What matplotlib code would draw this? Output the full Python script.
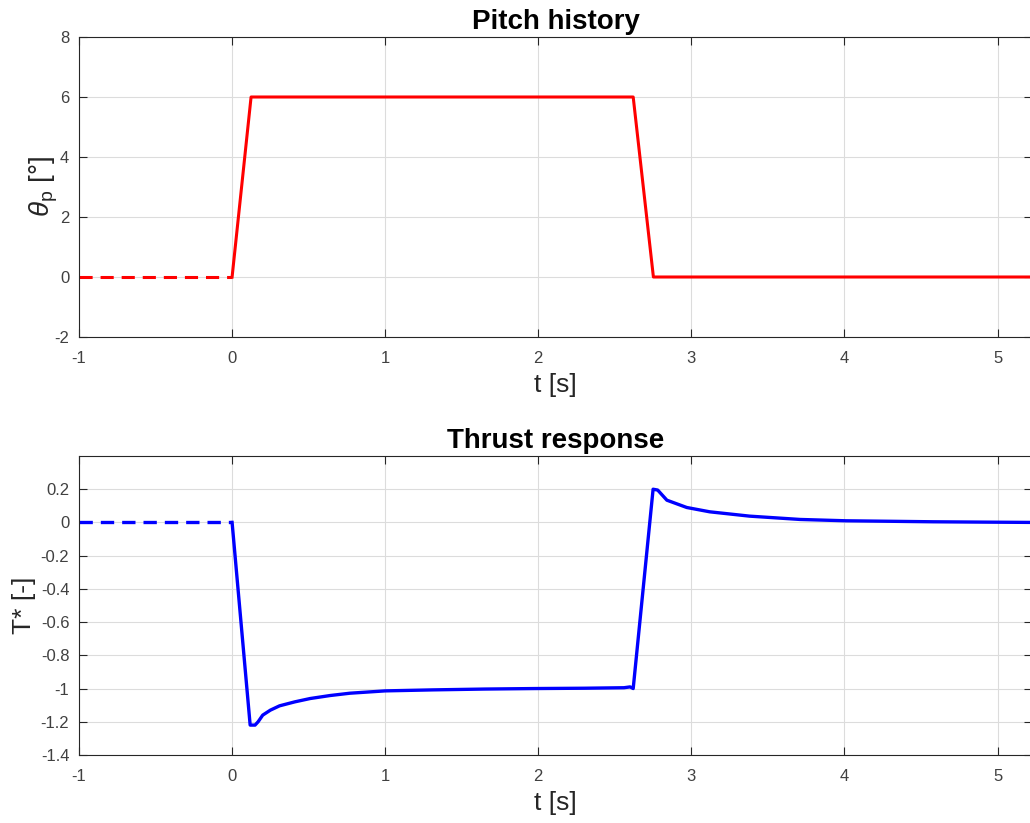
import matplotlib
matplotlib.use("Agg")
import matplotlib.pyplot as plt

# pitch history (deg)
t_pre = [-1.0, 0.0]
pitch_pre = [0.0, 0.0]
t_pitch = [0.0, 0.124, 2.62, 2.752, 5.25]
pitch = [0.0, 6.0, 6.0, 0.0, 0.0]

# thrust response (-)
thr_pre = [0.0, 0.0]
t_thr = [0.0, 0.118, 0.15, 0.17, 0.2, 0.25, 0.31, 0.41, 0.51, 0.64, 0.77, 1.0, 1.31,
         1.65, 1.97, 2.3, 2.56, 2.6, 2.62, 2.75, 2.78, 2.84, 2.97, 3.12, 3.38, 3.71,
         4.01, 4.3, 4.58, 4.9, 5.25]
thr = [0.0, -1.22, -1.22, -1.2, -1.16, -1.13, -1.104, -1.08, -1.06, -1.042, -1.028,
       -1.014, -1.008, -1.003, -1.0, -0.998, -0.995, -0.99, -1.0, 0.2, 0.195, 0.134,
       0.09, 0.064, 0.038, 0.018, 0.01, 0.007, 0.004, 0.002, 0.0]

plt.rcParams['font.family'] = ['Liberation Sans', 'DejaVu Sans']
plt.rcParams['mathtext.fontset'] = 'custom'
plt.rcParams['mathtext.rm'] = 'Liberation Sans'
plt.rcParams['mathtext.it'] = 'Liberation Sans:italic'
plt.rcParams['axes.unicode_minus'] = False

dark = '#262626'
gray = '#404040'


def style(ax, ylo, yhi, yticks):
    ax.set_xlim(-1, 5.225)
    ax.set_ylim(ylo, yhi)
    ax.set_xticks([-1, 0, 1, 2, 3, 4, 5])
    ax.set_yticks(yticks)
    ax.set_yticklabels(['%g' % v for v in yticks])
    ax.grid(True, color='#dcdcdc', linewidth=0.8)
    ax.set_axisbelow(True)
    ax.tick_params(direction='in', length=6, width=0.8, color=dark,
                   labelcolor=gray, labelsize=12, top=True, right=True)
    ax.tick_params(axis='x', pad=10)
    ax.tick_params(axis='y', pad=7)
    for s in ax.spines.values():
        s.set_color(dark)
        s.set_linewidth(0.8)
    ax.set_xlabel('t [s]', fontsize=19, color=dark, labelpad=5)


fig = plt.figure(figsize=(10.3, 8.23), dpi=100)
ax1 = fig.add_axes([79 / 1030, 486 / 823, 953 / 1030, 300 / 823])
ax2 = fig.add_axes([79 / 1030, 68 / 823, 953 / 1030, 299 / 823])

ax1.plot(t_pre, pitch_pre, color='red', lw=2.2, linestyle=(0, (4.3, 2.6)))
ax1.plot(t_pitch, pitch, color='red', lw=2.2)
style(ax1, -2, 8, [-2, 0, 2, 4, 6, 8])
ax1.set_title('Pitch history', fontsize=20, fontweight='bold', pad=6)
ax1.set_ylabel(r'$\theta_{\rm p}$ [°]', fontsize=20, color=dark, labelpad=-4)

ax2.plot(t_pre, thr_pre, color='blue', lw=2.4, linestyle=(0, (4.0, 2.4)))
ax2.plot(t_thr, thr, color='blue', lw=2.4)
style(ax2, -1.4, 0.4, [-1.4, -1.2, -1.0, -0.8, -0.6, -0.4, -0.2, 0, 0.2])
ax2.set_title('Thrust response', fontsize=20, fontweight='bold', pad=6)
ax2.set_ylabel('T* [-]', fontsize=19, color=dark, labelpad=3)

fig.savefig('out.png', dpi=100)
